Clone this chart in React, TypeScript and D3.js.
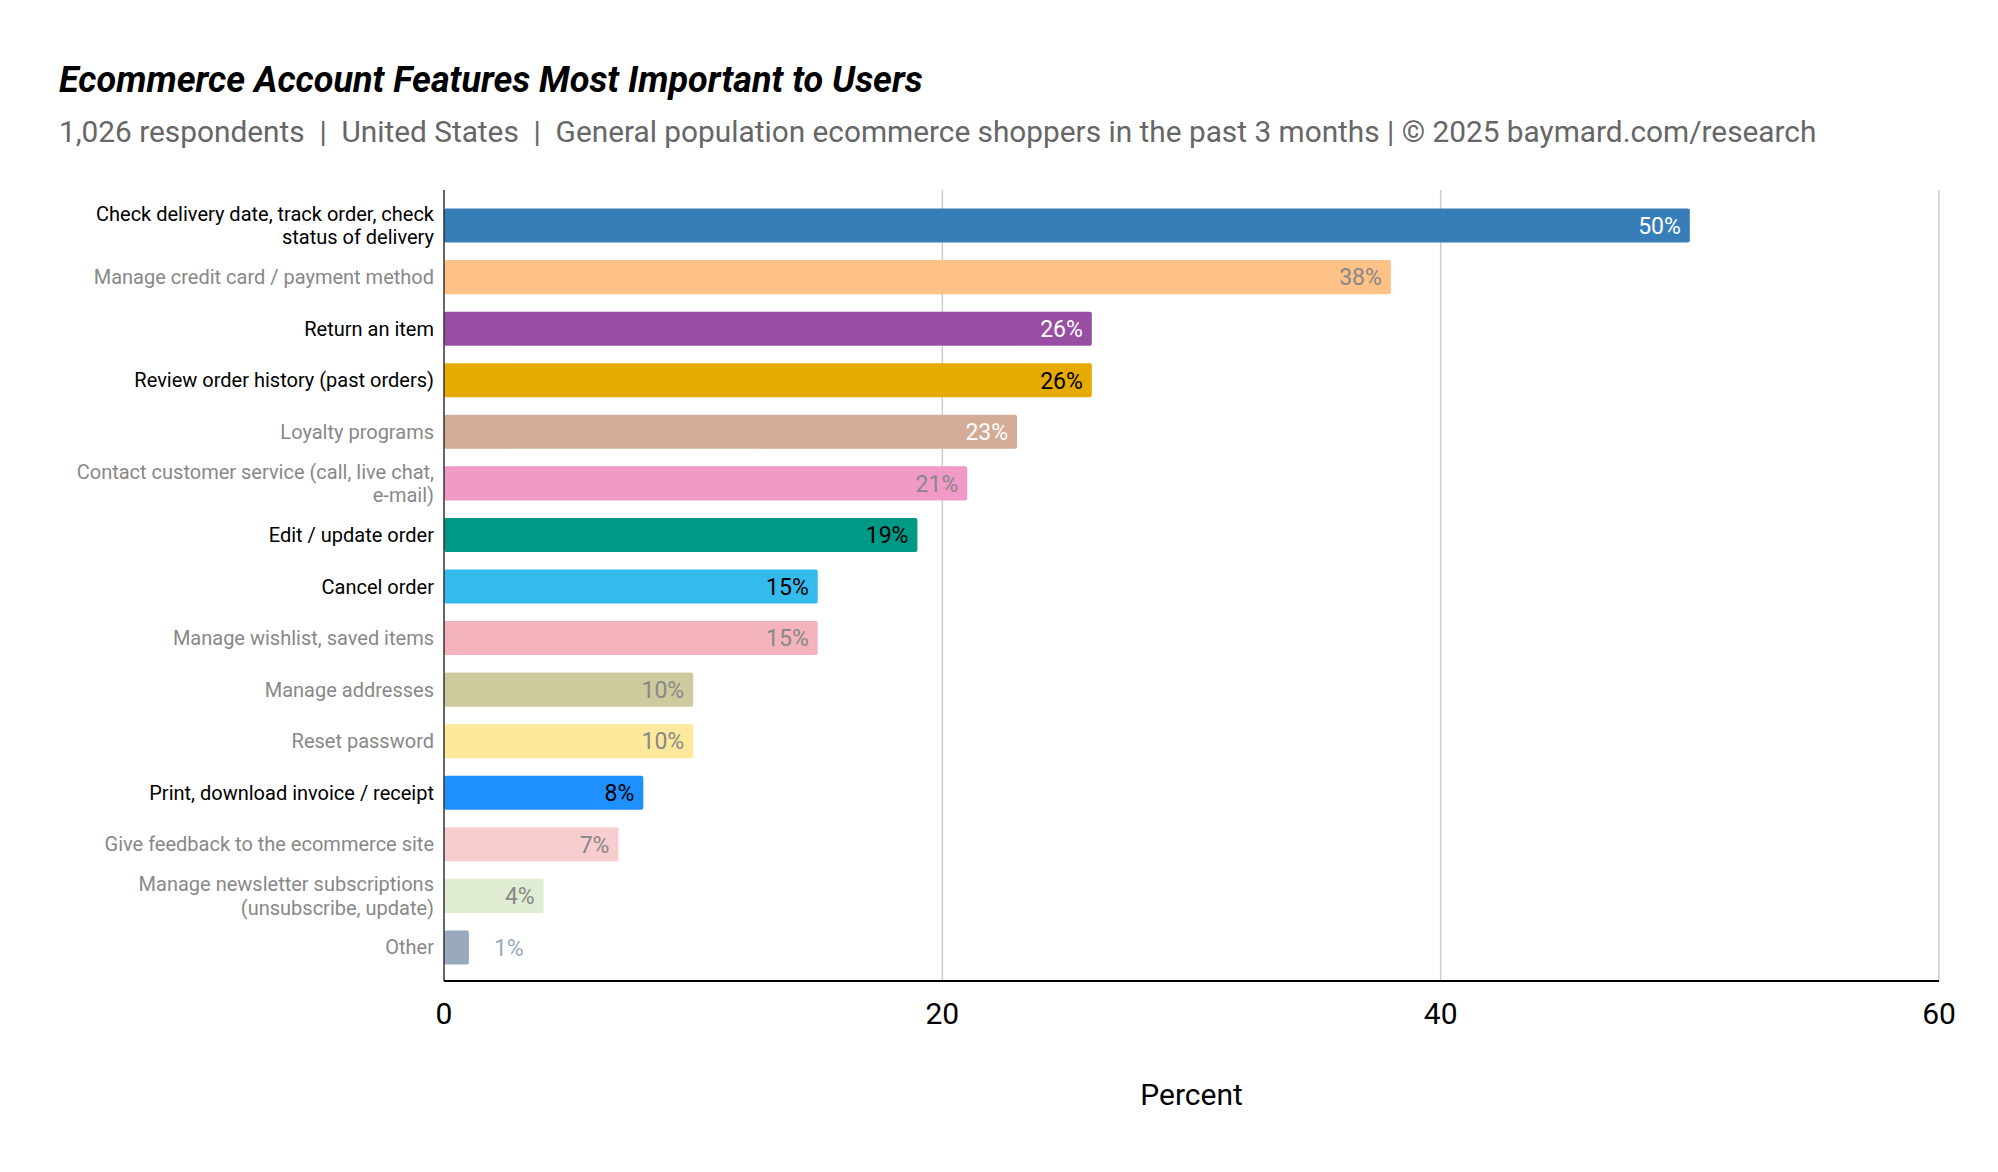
import React, { useEffect, useRef } from 'react';
import * as d3 from 'd3';

const categories = [
  'Check delivery date, track order, check\nstatus of delivery',
  'Manage credit card / payment method',
  'Return an item',
  'Review order history (past orders)',
  'Loyalty programs',
  'Contact customer service (call, live chat,\ne-mail)',
  'Edit / update order',
  'Cancel order',
  'Manage wishlist, saved items',
  'Manage addresses',
  'Reset password',
  'Print, download invoice / receipt',
  'Give feedback to the ecommerce site',
  'Manage newsletter subscriptions\n(unsubscribe, update)',
  'Other',
];

const values = [50, 38, 26, 26, 23, 21, 19, 15, 15, 10, 10, 8, 7, 4, 1];

const barColors = [
  '#377EB8', '#FEC186', '#984EA3', '#E6AB02', '#D2AC97',
  '#F29AC7', '#009985', '#33BBEC', '#F5B4BC', '#CDCB9D',
  '#FEE89B', '#1E90FF', '#F7CDD0', '#E0EDD2', '#9AAABE',
];

// label colours: black = highlighted rows, grey = the rest
const labelColors = [
  '#000', '#888', '#000', '#000', '#888', '#888', '#000', '#000',
  '#888', '#888', '#888', '#000', '#888', '#888', '#888',
];

const valueColors = [
  '#fff', '#888', '#fff', '#000', '#fff', '#888', '#000', '#000',
  '#888', '#888', '#888', '#000', '#888', '#888', '#9AAABE',
];

const xTicks = [0, 20, 40, 60];

const W = 1998;
const H = 1172;

export default function App() {
  const svgRef = useRef<SVGSVGElement>(null);

  useEffect(() => {
    document.body.style.margin = '0';
    if (!svgRef.current) return;
    const svg = d3.select(svgRef.current);
    svg.selectAll('*').remove();

    const font = 'Roboto, sans-serif';
    const left = 444, right = 1939, top = 190, bottom = 981;

    const x = d3.scaleLinear().domain([0, 60]).range([left, right]);
    const y = d3.scaleBand<number>()
      .domain(d3.range(categories.length))
      .range([top + 1, bottom + 1])
      .paddingInner(0.34)
      .paddingOuter(0.34);

    // title + subtitle
    svg.append('text')
      .attr('x', 59).attr('y', 92)
      .attr('font-family', font)
      .attr('font-size', 36)
      .attr('font-weight', 'bold')
      .attr('font-style', 'italic')
      .attr('fill', '#000')
      .text('Ecommerce Account Features Most Important to Users');

    svg.append('text')
      .attr('x', 59).attr('y', 142)
      .attr('font-family', font)
      .attr('font-size', 29.8)
      .attr('fill', '#666')
      .style('white-space', 'pre')
      .text('1,026 respondents  |  United States  |  General population ecommerce shoppers in the past 3 months | © 2025 baymard.com/research');

    // vertical gridlines
    svg.append('g').selectAll('line')
      .data(xTicks.slice(1))
      .enter()
      .append('line')
      .attr('x1', d => x(d)).attr('x2', d => x(d))
      .attr('y1', top).attr('y2', bottom)
      .attr('stroke', '#ccc')
      .attr('stroke-width', 1.5);

    // bars
    svg.append('g').selectAll('rect')
      .data(values)
      .enter()
      .append('rect')
      .attr('x', x(0))
      .attr('y', (_, i) => y(i)!)
      .attr('width', d => x(d) - x(0))
      .attr('height', y.bandwidth())
      .attr('rx', 2)
      .attr('fill', (_, i) => barColors[i]);

    // value labels (inside the bar end, outside for tiny bars)
    svg.append('g').selectAll('text')
      .data(values)
      .enter()
      .append('text')
      .attr('x', d => d < 3 ? x(d) + 25 : x(d) - 9)
      .attr('y', (_, i) => y(i)! + y.bandwidth() / 2)
      .attr('dy', '0.36em')
      .attr('text-anchor', d => d < 3 ? 'start' : 'end')
      .attr('font-family', font)
      .attr('font-size', 23)
      .attr('fill', (_, i) => valueColors[i])
      .text(d => `${d}%`);

    // category labels
    const labels = svg.append('g').selectAll('text')
      .data(categories)
      .enter()
      .append('text')
      .attr('text-anchor', 'end')
      .attr('font-family', font)
      .attr('font-size', 20)
      .attr('fill', (_, i) => labelColors[i]);

    labels.each(function (d, i) {
      const lines = d.split('\n');
      const cy = y(i)! + y.bandwidth() / 2;
      const lh = 23.5;
      lines.forEach((ln, k) => {
        d3.select(this).append('tspan')
          .attr('x', 434)
          .attr('y', cy + (k - (lines.length - 1) / 2) * lh + 7)
          .text(ln);
      });
    });

    // axes lines
    svg.append('line')
      .attr('x1', left).attr('x2', left)
      .attr('y1', top).attr('y2', bottom)
      .attr('stroke', '#333').attr('stroke-width', 1.5);
    svg.append('line')
      .attr('x1', left).attr('x2', right)
      .attr('y1', bottom).attr('y2', bottom)
      .attr('stroke', '#000').attr('stroke-width', 2);

    // x tick labels
    svg.append('g').selectAll('text')
      .data(xTicks)
      .enter()
      .append('text')
      .attr('x', d => x(d))
      .attr('y', 1024)
      .attr('text-anchor', 'middle')
      .attr('font-family', font)
      .attr('font-size', 30)
      .attr('fill', '#000')
      .text(d => String(d));

    svg.append('text')
      .attr('x', (left + right) / 2)
      .attr('y', 1105)
      .attr('text-anchor', 'middle')
      .attr('font-family', font)
      .attr('font-size', 30)
      .attr('fill', '#000')
      .text('Percent');
  }, []);

  return (
    <svg
      ref={svgRef}
      width={W}
      height={H}
      style={{ display: 'block', background: '#fff' }}
    />
  );
}
